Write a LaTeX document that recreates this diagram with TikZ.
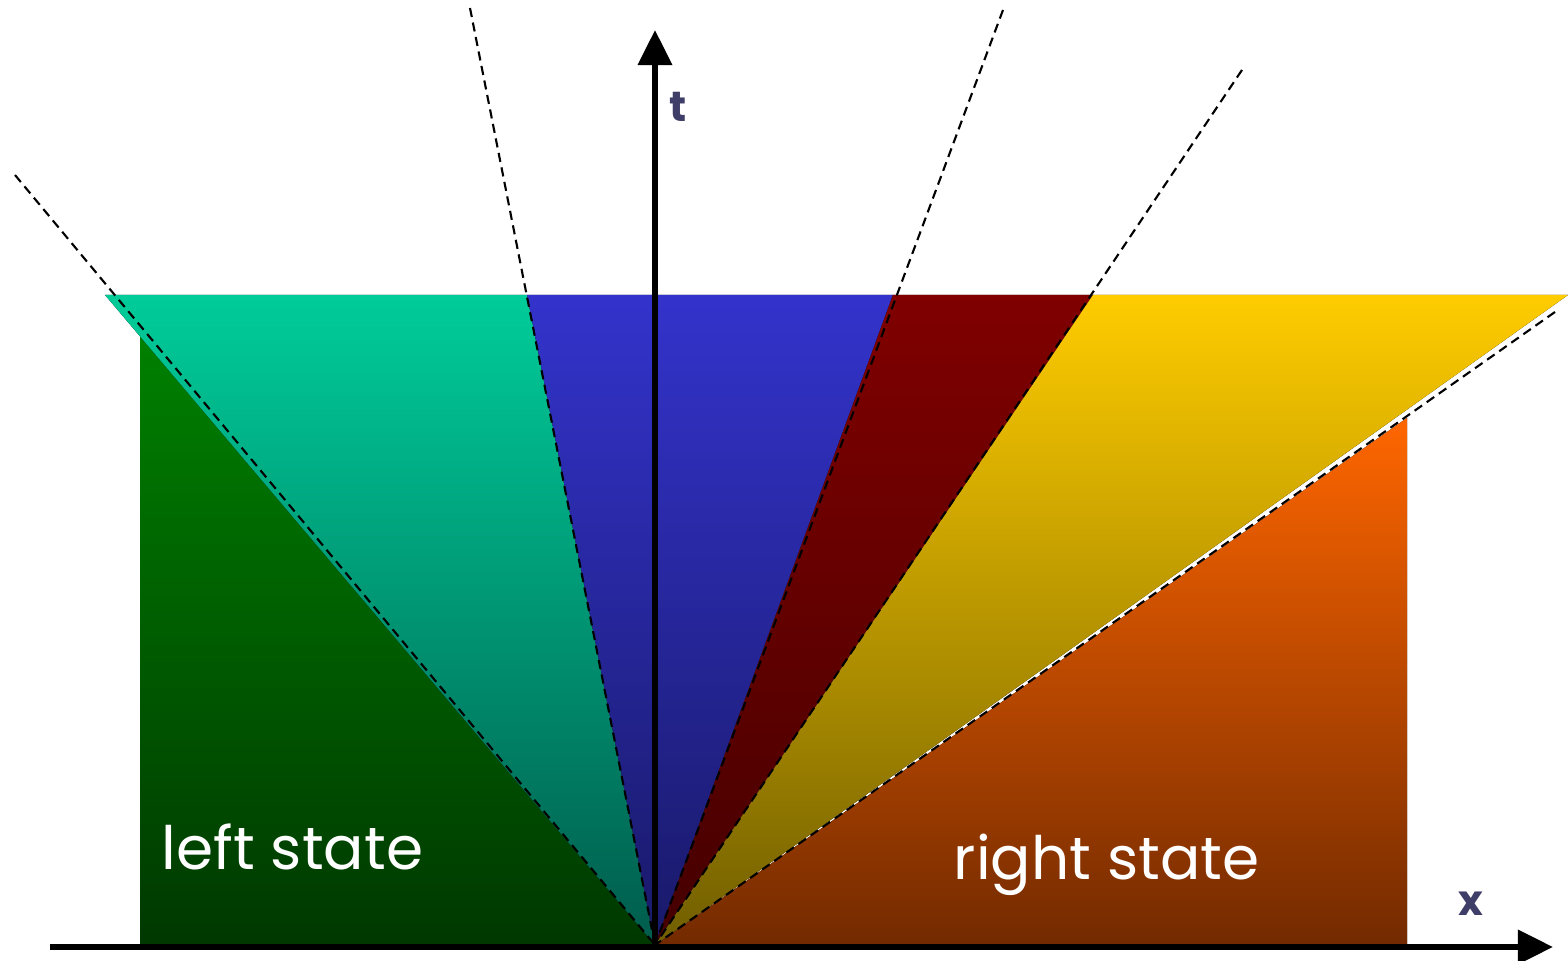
\documentclass[tikz,border=0pt]{standalone}
\usepackage{fontspec}
\setmainfont{Poppins}
\usepackage{tikz}
\usetikzlibrary{arrows.meta}

% colours of the fan
\definecolor{greenTop}{RGB}{0,128,0}
\definecolor{greenBot}{RGB}{0,56,0}
\definecolor{tealTop}{RGB}{0,204,153}
\definecolor{tealBot}{RGB}{0,92,76}
\definecolor{blueTop}{RGB}{51,51,204}
\definecolor{blueBot}{RGB}{25,25,105}
\definecolor{redTop}{RGB}{128,0,0}
\definecolor{redBot}{RGB}{68,0,0}
\definecolor{yellowTop}{RGB}{255,204,0}
\definecolor{yellowBot}{RGB}{112,94,0}
\definecolor{orangeTop}{RGB}{255,102,0}
\definecolor{orangeBot}{RGB}{115,42,0}
\definecolor{axisText}{RGB}{62,62,104}

\begin{document}
\begin{tikzpicture}[x=0.01cm,y=-0.01cm,
    wave/.style={black,line width=0.6pt,dash pattern=on 2.6pt off 1.6pt},
    axis/.style={line width=1.7pt,-{Triangle[length=10pt,width=9.5pt]}},
    statelabel/.style={text=white,anchor=base west,inner sep=0pt,font=\fontsize{17}{20}\selectfont},
    axislabel/.style={text=axisText,font=\bfseries\fontsize{12}{14}\selectfont}]
        \useasboundingbox (0,0) rectangle (1568,961);

        % Define the fan origin and the top line
        \coordinate (O) at (655,945);
        \def\ytop{295} % top of the fan

        % Left and right states
        \fill[top color=greenTop,bottom color=greenBot] (140,945) -- (140,336) -- (O) -- cycle;
        \fill[top color=orangeTop,bottom color=orangeBot] (1407,945) -- (1407,418) -- (O) -- cycle;

        % Fan of waves
        \fill[top color=tealTop,bottom color=tealBot] (105,\ytop) -- (527,\ytop) -- (O) -- cycle;
        \fill[top color=blueTop,bottom color=blueBot] (527,\ytop) -- (893,\ytop) -- (O) -- cycle;
        \fill[top color=redTop,bottom color=redBot] (893,\ytop) -- (1093,\ytop) -- (O) -- cycle;
        \fill[top color=yellowTop,bottom color=yellowBot] (1093,\ytop) -- (1568,\ytop) -- (O) -- cycle;

        % Dashed characteristics
        \foreach \wx/\wy [count=\i] in {15/175, 470/8, 1003/10, 1242/70, 1555/312} {
            \coordinate (w\i) at (\wx,\wy);
            \draw[wave] (w\i) -- (O);
        }

        % Axes
        \coordinate (xstart) at (50,947);
        \coordinate (xend) at (1553,947);
        \coordinate (tstart) at (655,950);
        \coordinate (tend) at (655,30);
        \draw[axis] (xstart) -- (xend);
        \draw[axis] (tstart) -- (tend);

        % Labels
        \node[axislabel] (tlab) at (678,107) {t};
        \node[axislabel] (xlab) at (1471,904) {x};
        \node[statelabel] (leftlab) at (161,870) {left state};
        \node[statelabel] (rightlab) at (953,880) {right state};
    \end{tikzpicture}
\end{document}
